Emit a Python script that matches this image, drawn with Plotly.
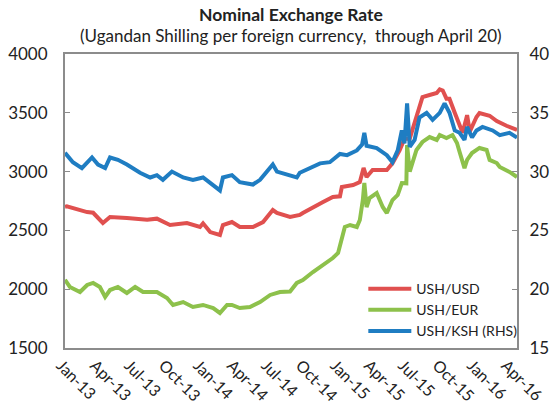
import plotly.graph_objects as go

# ---- data ----
usd_dates = ["2013-01-01","2013-01-06","2013-03-01","2013-03-17","2013-04-12","2013-05-01","2013-06-15",
             "2013-08-08","2013-09-03","2013-10-08","2013-11-22","2013-12-27","2014-01-04","2014-01-23",
             "2014-02-18","2014-02-26","2014-03-22","2014-04-12","2014-05-17","2014-06-13","2014-07-09",
             "2014-07-20","2014-08-24","2014-09-19","2014-09-27","2014-10-24","2014-11-20","2014-12-16",
             "2015-01-04","2015-01-09","2015-02-08","2015-02-26","2015-03-08","2015-03-16","2015-04-01",
             "2015-05-09","2015-05-24","2015-06-12","2015-06-25","2015-07-09","2015-07-22","2015-08-04",
             "2015-08-12","2015-08-31","2015-09-19","2015-09-27","2015-10-05","2015-10-15","2015-10-23",
             "2015-11-06","2015-11-19","2015-11-27","2015-12-09","2015-12-16","2016-01-03","2016-01-11",
             "2016-02-07","2016-02-26","2016-03-23","2016-04-20"]
usd_values = [2700,2705,2656,2650,2563,2614,2605,
              2590,2600,2546,2563,2529,2560,2486,
              2461,2546,2571,2529,2529,2571,2673,
              2648,2614,2631,2648,2699,2741,2784,
              2790,2869,2886,2912,3031,2954,3014,
              3014,3070,3180,3280,3280,3420,3549,
              3634,3651,3668,3700,3690,3620,3620,
              3500,3400,3330,3480,3340,3464,3498,
              3475,3430,3390,3354]

eur_dates = ["2013-01-01","2013-01-14","2013-02-10","2013-03-01","2013-03-17","2013-04-04","2013-04-18",
             "2013-05-01","2013-05-22","2013-06-15","2013-07-07","2013-07-28","2013-09-03","2013-09-30",
             "2013-10-16","2013-11-12","2013-12-08","2014-01-04","2014-01-31","2014-02-18","2014-03-09",
             "2014-03-22","2014-04-12","2014-05-09","2014-06-05","2014-07-02","2014-07-28","2014-08-24",
             "2014-09-11","2014-09-27","2014-10-24","2014-11-20","2014-12-16","2014-12-30","2015-01-09",
             "2015-01-17","2015-01-31","2015-02-18","2015-02-26","2015-03-06","2015-03-10","2015-03-16",
             "2015-03-24","2015-04-12","2015-04-28","2015-05-09","2015-05-24","2015-06-07","2015-06-18",
             "2015-06-30","2015-07-02","2015-07-09","2015-07-27","2015-08-12","2015-08-31","2015-09-19",
             "2015-09-27","2015-10-15","2015-10-31","2015-11-12","2015-11-19","2015-12-02","2015-12-09",
             "2015-12-22","2016-01-11","2016-01-30","2016-02-07","2016-02-26","2016-03-05","2016-03-31",
             "2016-04-20"]
eur_values = [2080,2019,1976,2036,2053,2019,1934,
              1993,2019,1968,2019,1976,1976,1925,
              1866,1891,1849,1866,1840,1798,1866,
              1866,1840,1849,1891,1951,1976,1980,
              2053,2078,2146,2206,2265,2308,2444,
              2529,2546,2529,2588,2758,2903,2699,
              2775,2818,2699,2648,2758,2801,2903,
              2900,3226,3000,3184,3252,3294,3269,
              3311,3286,3311,3243,3167,3030,3100,
              3158,3201,3184,3099,3073,3039,2997,
              2954]

ksh_dates = ["2013-01-01","2013-01-22","2013-02-15","2013-03-14","2013-03-30","2013-04-18","2013-05-01",
             "2013-05-22","2013-06-15","2013-07-20","2013-08-16","2013-09-03","2013-09-19","2013-10-13",
             "2013-11-12","2013-12-08","2014-01-04","2014-01-31","2014-02-18","2014-02-26","2014-03-22",
             "2014-04-12","2014-05-17","2014-06-05","2014-06-24","2014-07-09","2014-07-20","2014-08-16",
             "2014-09-11","2014-09-19","2014-10-16","2014-11-12","2014-12-08","2015-01-04","2015-01-23",
             "2015-02-18","2015-03-04","2015-03-10","2015-03-16","2015-04-12","2015-05-09","2015-05-24",
             "2015-06-07","2015-06-18","2015-06-25","2015-07-02","2015-07-09","2015-07-22","2015-08-04",
             "2015-08-23","2015-09-08","2015-09-27","2015-10-10","2015-10-23","2015-11-06","2015-11-19",
             "2015-12-02","2015-12-09","2015-12-22","2016-01-03","2016-01-19","2016-02-15","2016-03-05",
             "2016-03-31","2016-04-20"]
ksh_values = [31.6,30.8,30.3,31.2,30.6,30.3,31.2,
              31.0,30.6,29.9,29.5,29.7,29.3,30.0,
              29.5,29.3,29.5,28.9,28.4,29.5,29.7,
              29.1,28.9,29.3,30.0,30.6,30.0,29.7,
              29.5,29.9,30.3,30.7,30.8,31.5,31.4,
              31.8,32.3,33.3,32.2,32.0,31.4,30.8,
              31.8,33.5,32.4,35.8,32.1,32.7,34.6,
              35.0,34.4,35.0,35.8,35.0,33.5,33.3,
              32.7,33.8,32.9,33.5,33.8,33.5,33.1,
              33.3,32.9]

tick_vals = ["2013-01-01","2013-04-01","2013-07-01","2013-10-01","2014-01-01","2014-04-01","2014-07-01",
             "2014-10-01","2015-01-01","2015-04-01","2015-07-01","2015-10-01","2016-01-01","2016-04-01"]
tick_text = ["Jan-13","Apr-13","Jul-13","Oct-13","Jan-14","Apr-14","Jul-14",
             "Oct-14","Jan-15","Apr-15","Jul-15","Oct-15","Jan-16","Apr-16"]

RED = "#E0504F"
GREEN = "#8DC14B"
BLUE = "#1F7DC2"
GRID = "#8C8C8C"
FONT = "Lato"

fig = go.Figure()
fig.add_trace(go.Scatter(x=usd_dates, y=usd_values, name="USH/USD", mode="lines",
                         line=dict(color=RED, width=4)))
fig.add_trace(go.Scatter(x=eur_dates, y=eur_values, name="USH/EUR", mode="lines",
                         line=dict(color=GREEN, width=4)))
fig.add_trace(go.Scatter(x=ksh_dates, y=ksh_values, name="USH/KSH (RHS)", mode="lines",
                         line=dict(color=BLUE, width=4), yaxis="y2"))

fig.update_layout(
    width=552, height=408,
    margin=dict(l=65, r=35, t=54, b=60, autoexpand=False),
    paper_bgcolor="white", plot_bgcolor="white",
    font=dict(family=FONT, size=16, color="#222222"),
    showlegend=True,
    legend=dict(x=0.66, y=0.255, xanchor="left", yanchor="top",
                bgcolor="rgba(0,0,0,0)", font=dict(size=14, family=FONT),
                tracegroupgap=0, itemwidth=43),
    xaxis=dict(type="date", range=["2013-01-01", "2016-04-20"],
               tickvals=tick_vals, ticktext=tick_text, tickangle=45,
               showgrid=False, zeroline=False, automargin=False,
               showline=True, linecolor=GRID, linewidth=2, mirror=True,
               ticks="", tickfont=dict(size=16), ticklabelshift=-4),
    yaxis=dict(range=[1500, 4000], dtick=500, showgrid=False, zeroline=False,
               showline=True, linecolor=GRID, linewidth=2, automargin=False,
               ticks="inside", ticklen=5, tickcolor=GRID, tickwidth=1,
               ticklabelstandoff=12, tickfont=dict(size=17)),
    yaxis2=dict(range=[15, 40], dtick=5, overlaying="y", side="right",
                showgrid=False, zeroline=False, automargin=False,
                showline=True, linecolor=GRID, linewidth=2,
                ticks="inside", ticklen=5, tickcolor=GRID, tickwidth=1,
                ticklabelstandoff=7, tickfont=dict(size=17)),
)
fig.add_annotation(text="<b>Nominal Exchange Rate</b>", xref="paper", yref="paper",
                   x=0.5, y=1 + (54 - 14) / 294, yanchor="middle", showarrow=False,
                   font=dict(size=17.5, family=FONT))
fig.add_annotation(text="(Ugandan Shilling per foreign currency,  through April 20)",
                   xref="paper", yref="paper",
                   x=0.5, y=1 + (54 - 35) / 294, yanchor="middle", showarrow=False,
                   font=dict(size=17, family=FONT))

fig.write_html("out.html", config={"displayModeBar": False},
               post_script="document.body.style.margin='0';document.body.style.overflow='hidden';")
